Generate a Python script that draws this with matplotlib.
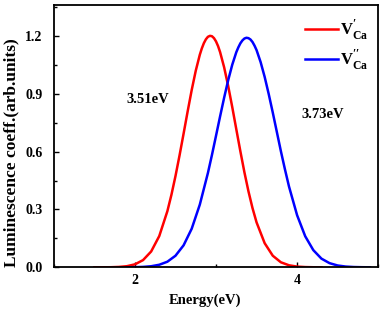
import numpy as np
import matplotlib
matplotlib.use("Agg")
from matplotlib import pyplot as plt
from matplotlib.ticker import MultipleLocator

# energies (eV) and luminescence coefficients
e_red = [1.5, 1.6, 1.7, 1.8, 1.9, 2.0, 2.1, 2.2, 2.3, 2.4, 2.45, 2.5, 2.55,
         2.6, 2.65, 2.7, 2.75, 2.8, 2.825, 2.85, 2.875, 2.9, 2.925, 2.95,
         2.975, 3.0, 3.025, 3.05, 3.1, 3.15, 3.2, 3.25, 3.3, 3.35, 3.4, 3.45,
         3.5, 3.6, 3.7, 3.8, 3.9, 4.0, 4.1, 4.2, 4.3]
lum_red = [0.0, 0.0, 0.0004, 0.0019, 0.0057, 0.0154, 0.0373, 0.082, 0.162,
           0.291, 0.376, 0.473, 0.580, 0.693, 0.808, 0.919, 1.019, 1.102,
           1.135, 1.162, 1.182, 1.195, 1.200, 1.198, 1.188, 1.171, 1.147,
           1.116, 1.037, 0.940, 0.831, 0.716, 0.602, 0.493, 0.394, 0.307,
           0.233, 0.125, 0.060, 0.026, 0.0105, 0.0037, 0.0012, 0.0003, 0.0]

e_blue = [1.9, 2.0, 2.1, 2.2, 2.3, 2.4, 2.5, 2.6, 2.7, 2.8, 2.9, 2.95, 3.0,
          3.05, 3.1, 3.15, 3.2, 3.25, 3.275, 3.3, 3.325, 3.35, 3.375, 3.4,
          3.425, 3.45, 3.475, 3.5, 3.55, 3.6, 3.65, 3.7, 3.75, 3.8, 3.85, 3.9,
          4.0, 4.1, 4.2, 4.3, 4.4, 4.5, 4.6, 4.7, 4.8, 4.9]
lum_blue = [0.0002, 0.0008, 0.0021, 0.0055, 0.0132, 0.029, 0.060, 0.114,
            0.200, 0.325, 0.489, 0.583, 0.682, 0.782, 0.879, 0.970, 1.050,
            1.115, 1.140, 1.161, 1.176, 1.186, 1.190, 1.188, 1.181, 1.168,
            1.149, 1.126, 1.064, 0.987, 0.898, 0.802, 0.702, 0.602, 0.508,
            0.419, 0.270, 0.161, 0.089, 0.045, 0.0215, 0.0094, 0.0038, 0.0014,
            0.0005, 0.0]

labels = [r"$\mathbf{V}^{\prime}_{\mathbf{Ca}}$",
          r"$\mathbf{V}^{\prime\prime}_{\mathbf{Ca}}$"]
notes = ["3.51eV", "3.73eV"]
note_pos = [(1.9, 0.87), (4.05, 0.79)]

plt.rcParams['font.family'] = ['Liberation Serif', 'DejaVu Serif']
plt.rcParams['font.weight'] = 'bold'
plt.rcParams['mathtext.fontset'] = 'custom'
plt.rcParams['mathtext.rm'] = 'Liberation Serif:bold'
plt.rcParams['mathtext.bf'] = 'Liberation Serif:bold'

fig = plt.figure(figsize=(3.82, 3.11), dpi=100)
ax = fig.add_axes([0.141, 0.1405, 0.849, 0.8435])

ax.plot(e_red, lum_red, color='#ff0000', lw=1.8, label=labels[0])
ax.plot(e_blue, lum_blue, color='#0000ff', lw=1.8, label=labels[1])

for txt, (x, y) in zip(notes, note_pos):
    ax.text(x, y, txt, fontsize=10.5, fontweight='bold', va='center', ha='left')

ax.set_xlim(1, 5)
ax.set_ylim(0, 1.36)
ax.xaxis.set_major_locator(MultipleLocator(2))
ax.xaxis.set_minor_locator(MultipleLocator(1))
ax.yaxis.set_major_locator(MultipleLocator(0.3))
ax.yaxis.set_minor_locator(MultipleLocator(0.15))
ax.tick_params(which='both', direction='in', labelsize=10, width=1.0)
ax.tick_params(which='major', length=3.5)
ax.tick_params(axis='y', which='major', pad=8)
ax.tick_params(axis='x', which='major', pad=5)
ax.tick_params(which='minor', length=2)
for s in ax.spines.values():
    s.set_linewidth(1.3)
for lbl in ax.get_xticklabels() + ax.get_yticklabels():
    lbl.set_fontweight('bold')

ax.set_xlabel('Energy(eV)', fontsize=10.5, fontweight='bold')
ax.set_ylabel('Luminescence coeff.(arb.units)', fontsize=12.5, fontweight='bold')
ax.xaxis.set_label_coords(0.466, -0.1)
ax.yaxis.set_label_coords(-0.105, 0.436)

ax.legend(loc='upper right', bbox_to_anchor=(1.015, 1.007), frameon=False,
          fontsize=12, handlelength=2.0, labelspacing=0.3, handletextpad=0.1,
          borderaxespad=0.5)

fig.savefig('out.png', dpi=100)
